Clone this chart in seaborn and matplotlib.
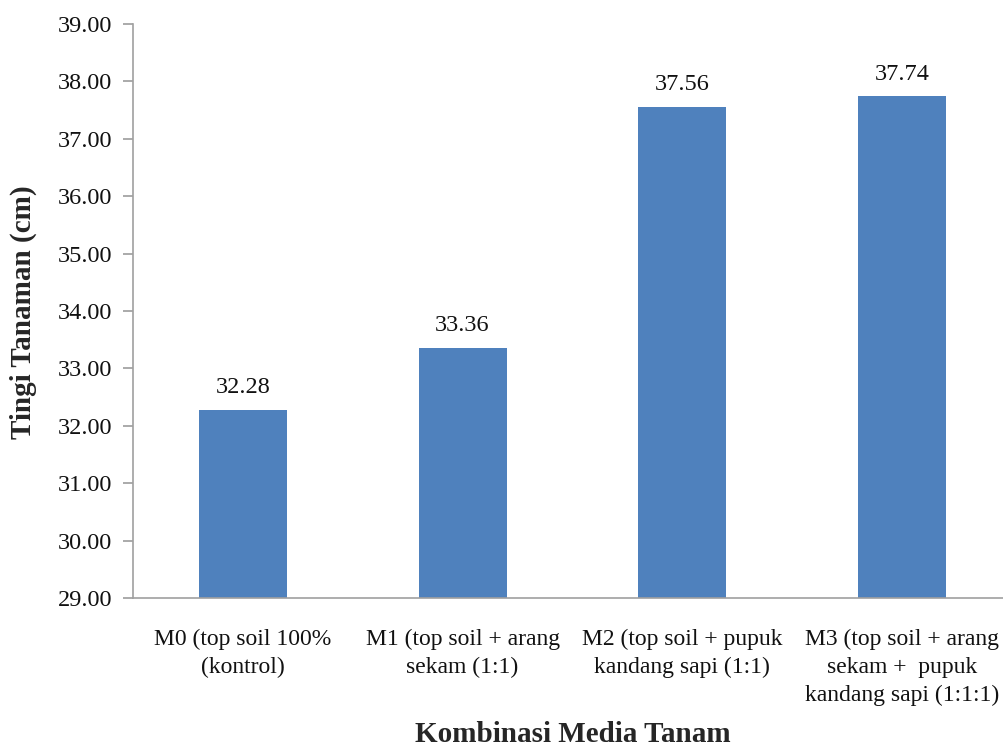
import matplotlib
matplotlib.use("Agg")
import matplotlib.pyplot as plt
import seaborn as sns
import pandas as pd

categories = ["M0 (top soil 100%\n(kontrol)",
              "M1 (top soil + arang\nsekam (1:1)",
              "M2 (top soil + pupuk\nkandang sapi (1:1)",
              "M3 (top soil + arang\nsekam +  pupuk\nkandang sapi (1:1:1)"]
values = [32.28, 33.36, 37.56, 37.74]
yticks = [29, 30, 31, 32, 33, 34, 35, 36, 37, 38, 39]

sns.set_theme(style="white")
plt.rcParams['font.family'] = ['Liberation Serif', 'DejaVu Serif']

df = pd.DataFrame({"cat": categories, "val": values})
fig = plt.figure(figsize=(10.04, 7.49), dpi=100)
ax = fig.add_axes([133/1004, 1-598/749, (1012-133)/1004, (598-24)/749])
sns.barplot(data=df, x="cat", y="val", color="#4F81BD", width=0.4, ax=ax,
            saturation=1, edgecolor="none")
ax.set_ylim(29, 39)
ax.set_xlim(-0.5, 3.5)
ax.set_yticks(yticks)
ax.set_yticklabels([f"{t:.2f}" for t in yticks], fontsize=17.5, color="#111111")
ax.set_xticks(range(len(categories)))
ax.set_xticklabels(categories, fontsize=17, linespacing=1.45, color="#111111",
                   va="top")
for i, v in enumerate(values):
    ax.text(i, v + 0.2, f"{v:.2f}", ha="center", va="bottom", fontsize=17.5,
            color="#111111")
for s in ["top", "right"]:
    ax.spines[s].set_visible(False)
for s in ["left", "bottom"]:
    ax.spines[s].set_color("#A0A0A0")
    ax.spines[s].set_linewidth(1.2)
ax.tick_params(axis="y", which="major", left=True, length=7, color="#A0A0A0", pad=8)
ax.tick_params(axis="x", bottom=False, pad=16)
ax.set_ylabel("")
ax.set_xlabel("")
fig.text(23 / 1004, 1 - 312 / 749, "Tingi Tanaman (cm)", rotation=90,
         ha="center", va="center", fontsize=21, fontweight="bold")
fig.text((133 + 1012) / 2 / 1004, 0.001, "Kombinasi Media Tanam", ha="center",
         va="bottom", fontsize=21, fontweight="bold")
fig.savefig("out.png", dpi=100)
